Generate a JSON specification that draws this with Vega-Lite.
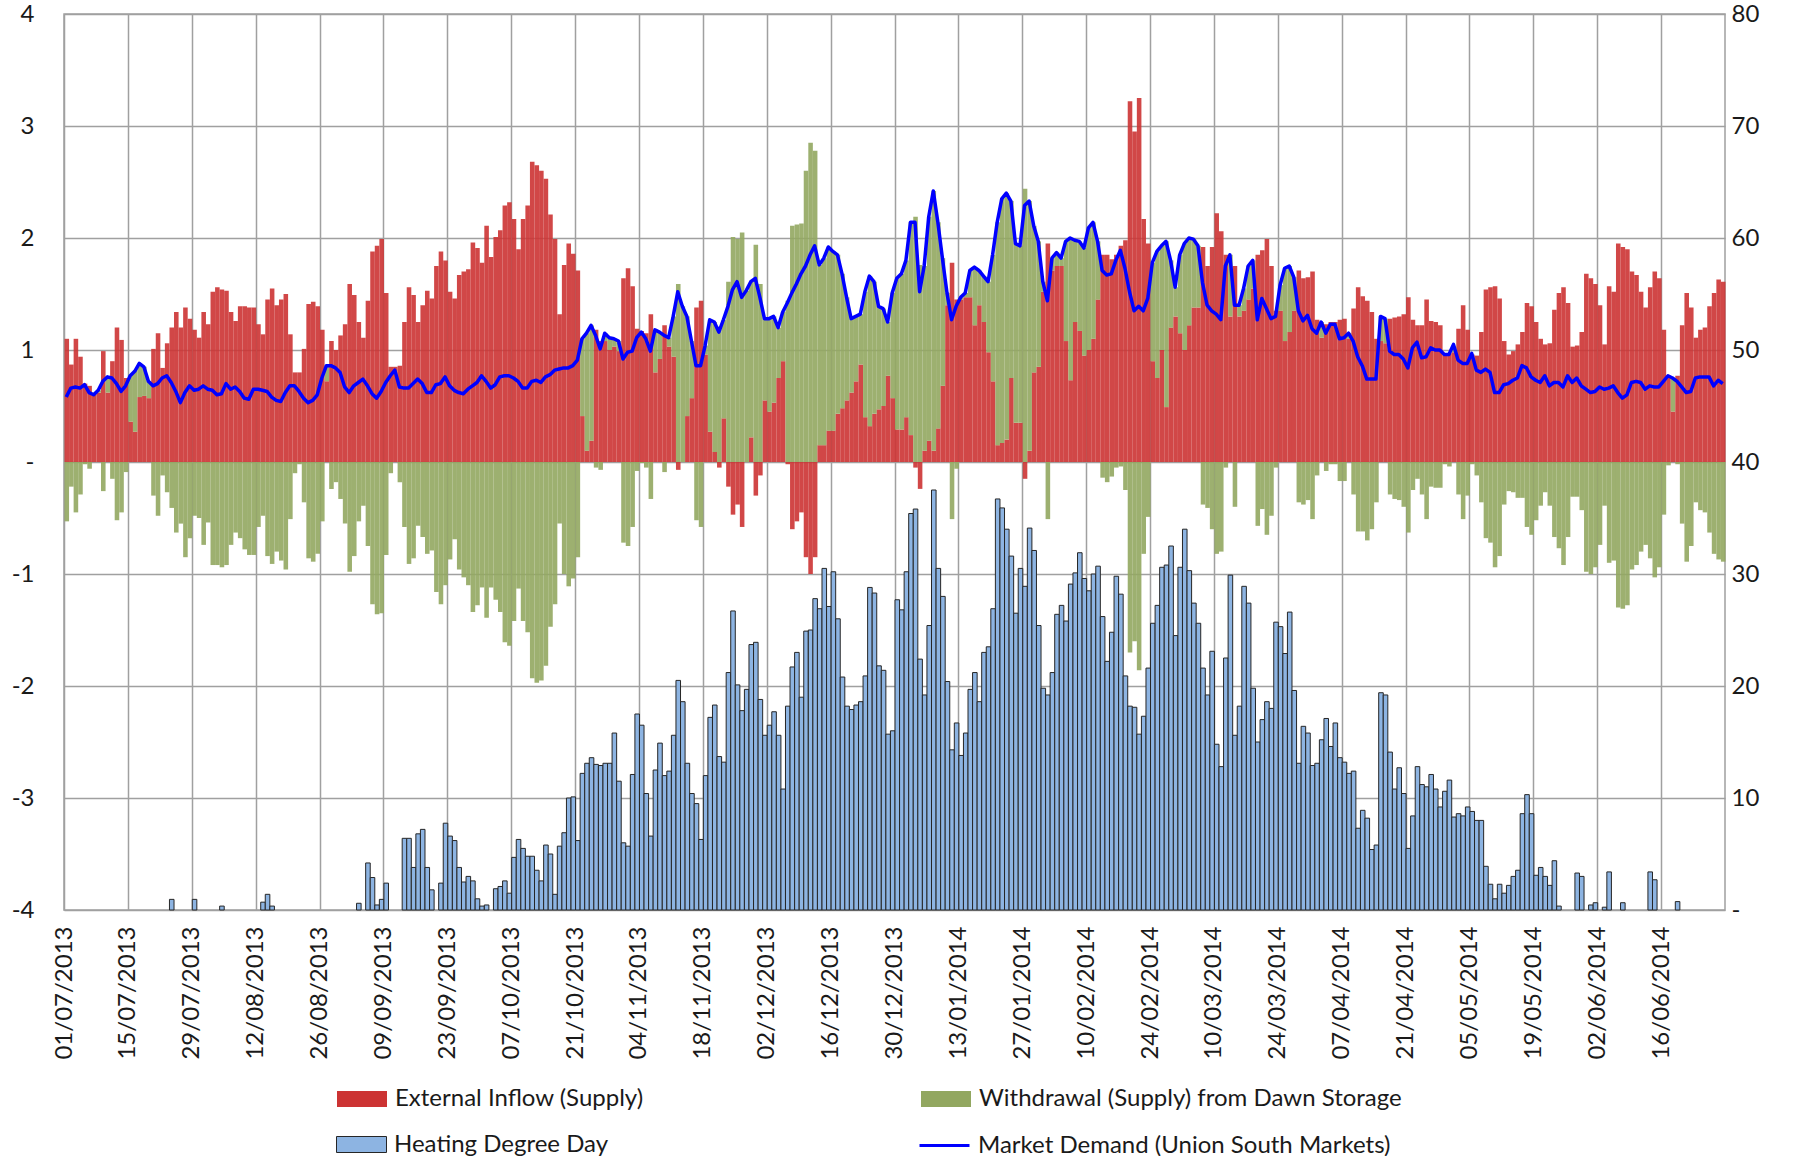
{
"$schema": "https://vega.github.io/schema/vega-lite/v6.json",
"width": 1661, "height": 896,
"autosize": {"type": "none"},
"padding": {"left": 64, "top": 14, "right": 72, "bottom": 246},
"background": "white",
"config": {
  "view": {"stroke": "#a0a0a0", "strokeWidth": 1.5},
  "font": "Lato",
  "axis": {"labelFont": "Lato", "labelFontSize": 24, "labelColor": "#1a1a1a", "ticks": false, "domain": false, "title": null},
  "legend": {"orient": "none", "padding": 0, "title": null, "labelFont": "Lato", "labelFontSize": 24, "labelColor": "#1a1a1a", "labelLimit": 700}
},
"data": {"values": [
{"d":"2013-07-01","e":1.10,"w":-0.53,"h":0,"m":0.58},
{"d":"2013-07-02","e":0.87,"w":-0.22,"h":0,"m":0.66},
{"d":"2013-07-03","e":1.10,"w":-0.45,"h":0,"m":0.67},
{"d":"2013-07-04","e":0.94,"w":-0.29,"h":0,"m":0.66},
{"d":"2013-07-05","e":0.70,"w":-0.02,"h":0,"m":0.69},
{"d":"2013-07-06","e":0.68,"w":-0.06,"h":0,"m":0.62},
{"d":"2013-07-07","e":0.60,"w":0.02,"h":0,"m":0.60},
{"d":"2013-07-08","e":0.62,"w":0.02,"h":0,"m":0.64},
{"d":"2013-07-09","e":0.99,"w":-0.26,"h":0,"m":0.72},
{"d":"2013-07-10","e":0.62,"w":0.14,"h":0,"m":0.76},
{"d":"2013-07-11","e":0.90,"w":-0.15,"h":0,"m":0.75},
{"d":"2013-07-12","e":1.20,"w":-0.52,"h":0,"m":0.70},
{"d":"2013-07-13","e":1.09,"w":-0.45,"h":0,"m":0.63},
{"d":"2013-07-14","e":0.75,"w":-0.09,"h":0,"m":0.68},
{"d":"2013-07-15","e":0.36,"w":0.42,"h":0,"m":0.77},
{"d":"2013-07-16","e":0.27,"w":0.55,"h":0,"m":0.81},
{"d":"2013-07-17","e":0.58,"w":0.30,"h":0,"m":0.88},
{"d":"2013-07-18","e":0.59,"w":0.26,"h":0,"m":0.85},
{"d":"2013-07-19","e":0.57,"w":0.15,"h":0,"m":0.72},
{"d":"2013-07-20","e":1.01,"w":-0.30,"h":0,"m":0.68},
{"d":"2013-07-21","e":1.15,"w":-0.48,"h":0,"m":0.70},
{"d":"2013-07-22","e":0.84,"w":-0.12,"h":0,"m":0.75},
{"d":"2013-07-23","e":1.06,"w":-0.27,"h":0,"m":0.77},
{"d":"2013-07-24","e":1.20,"w":-0.41,"h":0.95,"m":0.71},
{"d":"2013-07-25","e":1.34,"w":-0.63,"h":0,"m":0.63},
{"d":"2013-07-26","e":1.20,"w":-0.55,"h":0,"m":0.53},
{"d":"2013-07-27","e":1.38,"w":-0.85,"h":0,"m":0.62},
{"d":"2013-07-28","e":1.28,"w":-0.68,"h":0,"m":0.68},
{"d":"2013-07-29","e":1.18,"w":-0.48,"h":0.95,"m":0.64},
{"d":"2013-07-30","e":1.11,"w":-0.50,"h":0,"m":0.65},
{"d":"2013-07-31","e":1.34,"w":-0.74,"h":0,"m":0.68},
{"d":"2013-08-01","e":1.23,"w":-0.54,"h":0,"m":0.65},
{"d":"2013-08-02","e":1.52,"w":-0.92,"h":0,"m":0.64},
{"d":"2013-08-03","e":1.56,"w":-0.92,"h":0,"m":0.60},
{"d":"2013-08-04","e":1.54,"w":-0.94,"h":0.35,"m":0.61},
{"d":"2013-08-05","e":1.53,"w":-0.92,"h":0,"m":0.70},
{"d":"2013-08-06","e":1.34,"w":-0.74,"h":0,"m":0.65},
{"d":"2013-08-07","e":1.26,"w":-0.63,"h":0,"m":0.67},
{"d":"2013-08-08","e":1.39,"w":-0.68,"h":0,"m":0.63},
{"d":"2013-08-09","e":1.39,"w":-0.78,"h":0,"m":0.57},
{"d":"2013-08-10","e":1.38,"w":-0.83,"h":0,"m":0.56},
{"d":"2013-08-11","e":1.38,"w":-0.83,"h":0,"m":0.65},
{"d":"2013-08-12","e":1.23,"w":-0.58,"h":0,"m":0.65},
{"d":"2013-08-13","e":1.14,"w":-0.48,"h":0.7,"m":0.64},
{"d":"2013-08-14","e":1.45,"w":-0.84,"h":1.4,"m":0.63},
{"d":"2013-08-15","e":1.55,"w":-0.91,"h":0.35,"m":0.58},
{"d":"2013-08-16","e":1.40,"w":-0.80,"h":0,"m":0.55},
{"d":"2013-08-17","e":1.45,"w":-0.88,"h":0,"m":0.54},
{"d":"2013-08-18","e":1.50,"w":-0.96,"h":0,"m":0.62},
{"d":"2013-08-19","e":1.14,"w":-0.51,"h":0,"m":0.68},
{"d":"2013-08-20","e":0.80,"w":-0.10,"h":0,"m":0.68},
{"d":"2013-08-21","e":0.80,"w":-0.02,"h":0,"m":0.63},
{"d":"2013-08-22","e":1.01,"w":-0.36,"h":0,"m":0.57},
{"d":"2013-08-23","e":1.41,"w":-0.86,"h":0,"m":0.53},
{"d":"2013-08-24","e":1.43,"w":-0.89,"h":0,"m":0.55},
{"d":"2013-08-25","e":1.39,"w":-0.82,"h":0,"m":0.60},
{"d":"2013-08-26","e":1.18,"w":-0.53,"h":0,"m":0.75},
{"d":"2013-08-27","e":0.72,"w":0.14,"h":0,"m":0.86},
{"d":"2013-08-28","e":1.08,"w":-0.24,"h":0,"m":0.86},
{"d":"2013-08-29","e":1.00,"w":-0.18,"h":0,"m":0.84},
{"d":"2013-08-30","e":1.13,"w":-0.33,"h":0,"m":0.80},
{"d":"2013-08-31","e":1.23,"w":-0.55,"h":0,"m":0.67},
{"d":"2013-09-01","e":1.59,"w":-0.98,"h":0,"m":0.62},
{"d":"2013-09-02","e":1.49,"w":-0.84,"h":0,"m":0.68},
{"d":"2013-09-03","e":1.25,"w":-0.53,"h":0.6,"m":0.71},
{"d":"2013-09-04","e":1.11,"w":-0.39,"h":0,"m":0.74},
{"d":"2013-09-05","e":1.44,"w":-0.75,"h":4.2,"m":0.68},
{"d":"2013-09-06","e":1.88,"w":-1.27,"h":2.9,"m":0.61},
{"d":"2013-09-07","e":1.93,"w":-1.36,"h":0.45,"m":0.57},
{"d":"2013-09-08","e":1.99,"w":-1.35,"h":0.95,"m":0.63},
{"d":"2013-09-09","e":1.51,"w":-0.83,"h":2.4,"m":0.71},
{"d":"2013-09-10","e":0.85,"w":-0.10,"h":0,"m":0.77},
{"d":"2013-09-11","e":0.85,"w":0,"h":0,"m":0.82},
{"d":"2013-09-12","e":0.86,"w":-0.18,"h":0,"m":0.67},
{"d":"2013-09-13","e":1.25,"w":-0.58,"h":6.4,"m":0.66},
{"d":"2013-09-14","e":1.56,"w":-0.91,"h":6.4,"m":0.66},
{"d":"2013-09-15","e":1.49,"w":-0.86,"h":3.8,"m":0.70},
{"d":"2013-09-16","e":1.25,"w":-0.57,"h":6.8,"m":0.74},
{"d":"2013-09-17","e":1.40,"w":-0.67,"h":7.2,"m":0.70},
{"d":"2013-09-18","e":1.53,"w":-0.82,"h":3.8,"m":0.62},
{"d":"2013-09-19","e":1.46,"w":-0.79,"h":1.8,"m":0.62},
{"d":"2013-09-20","e":1.75,"w":-1.16,"h":0,"m":0.69},
{"d":"2013-09-21","e":1.88,"w":-1.27,"h":2.4,"m":0.70},
{"d":"2013-09-22","e":1.80,"w":-1.10,"h":7.75,"m":0.76},
{"d":"2013-09-23","e":1.52,"w":-0.87,"h":6.6,"m":0.68},
{"d":"2013-09-24","e":1.46,"w":-0.69,"h":6.2,"m":0.64},
{"d":"2013-09-25","e":1.67,"w":-0.96,"h":3.8,"m":0.62},
{"d":"2013-09-26","e":1.70,"w":-1.03,"h":2.5,"m":0.61},
{"d":"2013-09-27","e":1.72,"w":-1.10,"h":3.0,"m":0.65},
{"d":"2013-09-28","e":1.96,"w":-1.34,"h":2.6,"m":0.68},
{"d":"2013-09-29","e":1.91,"w":-1.28,"h":1.0,"m":0.71},
{"d":"2013-09-30","e":1.78,"w":-1.12,"h":0.35,"m":0.77},
{"d":"2013-10-01","e":2.11,"w":-1.39,"h":0.45,"m":0.72},
{"d":"2013-10-02","e":1.83,"w":-1.12,"h":0,"m":0.66},
{"d":"2013-10-03","e":2.01,"w":-1.23,"h":1.9,"m":0.69},
{"d":"2013-10-04","e":2.07,"w":-1.34,"h":2.1,"m":0.76},
{"d":"2013-10-05","e":2.29,"w":-1.61,"h":2.6,"m":0.77},
{"d":"2013-10-06","e":2.32,"w":-1.64,"h":1.5,"m":0.77},
{"d":"2013-10-07","e":2.17,"w":-1.42,"h":4.7,"m":0.75},
{"d":"2013-10-08","e":1.90,"w":-1.13,"h":6.3,"m":0.72},
{"d":"2013-10-09","e":2.17,"w":-1.42,"h":5.5,"m":0.66},
{"d":"2013-10-10","e":2.29,"w":-1.52,"h":4.8,"m":0.66},
{"d":"2013-10-11","e":2.68,"w":-1.93,"h":4.8,"m":0.72},
{"d":"2013-10-12","e":2.65,"w":-1.97,"h":3.55,"m":0.73},
{"d":"2013-10-13","e":2.60,"w":-1.95,"h":2.6,"m":0.71},
{"d":"2013-10-14","e":2.53,"w":-1.82,"h":5.8,"m":0.76},
{"d":"2013-10-15","e":2.21,"w":-1.47,"h":5.0,"m":0.78},
{"d":"2013-10-16","e":1.99,"w":-1.27,"h":1.4,"m":0.82},
{"d":"2013-10-17","e":1.32,"w":-0.55,"h":5.7,"m":0.83},
{"d":"2013-10-18","e":1.76,"w":-1.00,"h":6.9,"m":0.84},
{"d":"2013-10-19","e":1.95,"w":-1.11,"h":10.0,"m":0.84},
{"d":"2013-10-20","e":1.86,"w":-1.04,"h":10.1,"m":0.86},
{"d":"2013-10-21","e":1.71,"w":-0.85,"h":6.2,"m":0.91},
{"d":"2013-10-22","e":0.41,"w":0.69,"h":12.2,"m":1.10},
{"d":"2013-10-23","e":0.10,"w":1.05,"h":13.1,"m":1.15},
{"d":"2013-10-24","e":0.19,"w":1.03,"h":13.6,"m":1.22},
{"d":"2013-10-25","e":1.18,"w":-0.05,"h":13.0,"m":1.13},
{"d":"2013-10-26","e":1.08,"w":-0.07,"h":12.9,"m":1.01},
{"d":"2013-10-27","e":1.08,"w":0.07,"h":13.1,"m":1.15},
{"d":"2013-10-28","e":1.00,"w":0.11,"h":13.1,"m":1.11},
{"d":"2013-10-29","e":1.03,"w":0.07,"h":15.8,"m":1.10},
{"d":"2013-10-30","e":0.99,"w":0.09,"h":11.5,"m":1.08},
{"d":"2013-10-31","e":1.64,"w":-0.72,"h":6.0,"m":0.92},
{"d":"2013-11-01","e":1.73,"w":-0.75,"h":5.7,"m":0.98},
{"d":"2013-11-02","e":1.57,"w":-0.58,"h":12.1,"m":0.99},
{"d":"2013-11-03","e":1.19,"w":-0.08,"h":17.5,"m":1.11},
{"d":"2013-11-04","e":1.17,"w":-0.01,"h":16.5,"m":1.16},
{"d":"2013-11-05","e":1.15,"w":-0.05,"h":10.4,"m":1.10},
{"d":"2013-11-06","e":1.32,"w":-0.33,"h":6.6,"m":0.99},
{"d":"2013-11-07","e":0.80,"w":0.38,"h":12.5,"m":1.18},
{"d":"2013-11-08","e":0.92,"w":0.24,"h":14.9,"m":1.16},
{"d":"2013-11-09","e":1.22,"w":-0.09,"h":12.0,"m":1.13},
{"d":"2013-11-10","e":1.03,"w":0.08,"h":12.4,"m":1.11},
{"d":"2013-11-11","e":0.94,"w":0.36,"h":15.6,"m":1.30},
{"d":"2013-11-12","e":-0.07,"w":1.59,"h":20.5,"m":1.52},
{"d":"2013-11-13","e":0,"w":1.39,"h":18.6,"m":1.39},
{"d":"2013-11-14","e":0.41,"w":0.89,"h":13.1,"m":1.30},
{"d":"2013-11-15","e":0.57,"w":0.51,"h":10.4,"m":1.08},
{"d":"2013-11-16","e":1.38,"w":-0.52,"h":9.5,"m":0.86},
{"d":"2013-11-17","e":1.44,"w":-0.58,"h":6.3,"m":0.86},
{"d":"2013-11-18","e":0.96,"w":0.08,"h":12.0,"m":1.04},
{"d":"2013-11-19","e":0.27,"w":1.00,"h":17.2,"m":1.27},
{"d":"2013-11-20","e":0.09,"w":1.16,"h":18.3,"m":1.25},
{"d":"2013-11-21","e":-0.05,"w":1.21,"h":13.7,"m":1.16},
{"d":"2013-11-22","e":0.39,"w":0.88,"h":13.2,"m":1.27},
{"d":"2013-11-23","e":-0.22,"w":1.61,"h":21.2,"m":1.39},
{"d":"2013-11-24","e":-0.47,"w":2.01,"h":26.7,"m":1.54},
{"d":"2013-11-25","e":-0.38,"w":1.99,"h":20.1,"m":1.61},
{"d":"2013-11-26","e":-0.58,"w":2.05,"h":17.8,"m":1.47},
{"d":"2013-11-27","e":0,"w":1.53,"h":19.7,"m":1.53},
{"d":"2013-11-28","e":0.22,"w":1.39,"h":23.7,"m":1.61},
{"d":"2013-11-29","e":-0.30,"w":1.94,"h":23.9,"m":1.64},
{"d":"2013-11-30","e":-0.12,"w":1.59,"h":18.8,"m":1.47},
{"d":"2013-12-01","e":0.55,"w":0.73,"h":15.6,"m":1.28},
{"d":"2013-12-02","e":0.45,"w":0.83,"h":16.5,"m":1.28},
{"d":"2013-12-03","e":0.53,"w":0.77,"h":17.7,"m":1.30},
{"d":"2013-12-04","e":0.75,"w":0.45,"h":15.6,"m":1.20},
{"d":"2013-12-05","e":0.90,"w":0.44,"h":10.8,"m":1.34},
{"d":"2013-12-06","e":-0.02,"w":1.44,"h":18.2,"m":1.42},
{"d":"2013-12-07","e":-0.60,"w":2.11,"h":21.7,"m":1.51},
{"d":"2013-12-08","e":-0.53,"w":2.12,"h":23.0,"m":1.59},
{"d":"2013-12-09","e":-0.45,"w":2.13,"h":19.0,"m":1.68},
{"d":"2013-12-10","e":-0.85,"w":2.60,"h":24.9,"m":1.75},
{"d":"2013-12-11","e":-1.00,"w":2.85,"h":25.0,"m":1.85},
{"d":"2013-12-12","e":-0.85,"w":2.78,"h":27.8,"m":1.93},
{"d":"2013-12-13","e":0.15,"w":1.61,"h":26.9,"m":1.76},
{"d":"2013-12-14","e":0.15,"w":1.67,"h":30.5,"m":1.82},
{"d":"2013-12-15","e":0.28,"w":1.64,"h":27.1,"m":1.92},
{"d":"2013-12-16","e":0.28,"w":1.60,"h":30.2,"m":1.88},
{"d":"2013-12-17","e":0.43,"w":1.42,"h":26.0,"m":1.85},
{"d":"2013-12-18","e":0.48,"w":1.20,"h":20.8,"m":1.68},
{"d":"2013-12-19","e":0.55,"w":0.92,"h":18.2,"m":1.47},
{"d":"2013-12-20","e":0.62,"w":0.66,"h":17.9,"m":1.28},
{"d":"2013-12-21","e":0.72,"w":0.58,"h":18.3,"m":1.30},
{"d":"2013-12-22","e":0.87,"w":0.45,"h":18.6,"m":1.32},
{"d":"2013-12-23","e":0.40,"w":1.12,"h":20.9,"m":1.52},
{"d":"2013-12-24","e":0.32,"w":1.34,"h":28.8,"m":1.66},
{"d":"2013-12-25","e":0.43,"w":1.18,"h":28.3,"m":1.61},
{"d":"2013-12-26","e":0.47,"w":0.92,"h":21.8,"m":1.39},
{"d":"2013-12-27","e":0.50,"w":0.87,"h":21.4,"m":1.37},
{"d":"2013-12-28","e":0.77,"w":0.48,"h":15.7,"m":1.25},
{"d":"2013-12-29","e":0.57,"w":0.94,"h":16.0,"m":1.51},
{"d":"2013-12-30","e":0.29,"w":1.35,"h":27.7,"m":1.64},
{"d":"2013-12-31","e":0.29,"w":1.39,"h":26.8,"m":1.68},
{"d":"2014-01-01","e":0.40,"w":1.40,"h":30.2,"m":1.80},
{"d":"2014-01-02","e":0.24,"w":1.90,"h":35.4,"m":2.14},
{"d":"2014-01-03","e":-0.05,"w":2.19,"h":35.8,"m":2.14},
{"d":"2014-01-04","e":-0.24,"w":1.76,"h":22.4,"m":1.52},
{"d":"2014-01-05","e":0.10,"w":1.65,"h":19.2,"m":1.75},
{"d":"2014-01-06","e":0.19,"w":2.00,"h":25.4,"m":2.19},
{"d":"2014-01-07","e":0.10,"w":2.32,"h":37.5,"m":2.42},
{"d":"2014-01-08","e":0.30,"w":1.84,"h":30.5,"m":2.14},
{"d":"2014-01-09","e":0.68,"w":1.14,"h":28.0,"m":1.82},
{"d":"2014-01-10","e":1.40,"w":0.11,"h":20.4,"m":1.51},
{"d":"2014-01-11","e":1.78,"w":-0.51,"h":14.3,"m":1.27},
{"d":"2014-01-12","e":1.45,"w":-0.06,"h":16.7,"m":1.39},
{"d":"2014-01-13","e":1.45,"w":0.02,"h":13.8,"m":1.47},
{"d":"2014-01-14","e":1.47,"w":0.04,"h":15.8,"m":1.51},
{"d":"2014-01-15","e":1.47,"w":0.24,"h":19.7,"m":1.71},
{"d":"2014-01-16","e":1.22,"w":0.52,"h":21.2,"m":1.74},
{"d":"2014-01-17","e":1.40,"w":0.31,"h":18.6,"m":1.71},
{"d":"2014-01-18","e":1.25,"w":0.41,"h":23.0,"m":1.66},
{"d":"2014-01-19","e":0.98,"w":0.63,"h":23.5,"m":1.61},
{"d":"2014-01-20","e":0.72,"w":1.13,"h":26.9,"m":1.85},
{"d":"2014-01-21","e":0.15,"w":1.99,"h":36.7,"m":2.14},
{"d":"2014-01-22","e":0.17,"w":2.18,"h":35.9,"m":2.35},
{"d":"2014-01-23","e":0.20,"w":2.20,"h":34.0,"m":2.40},
{"d":"2014-01-24","e":0.75,"w":1.58,"h":31.6,"m":2.33},
{"d":"2014-01-25","e":0.35,"w":1.60,"h":26.5,"m":1.95},
{"d":"2014-01-26","e":0.35,"w":1.58,"h":30.5,"m":1.93},
{"d":"2014-01-27","e":-0.15,"w":2.44,"h":28.9,"m":2.29},
{"d":"2014-01-28","e":0.10,"w":2.23,"h":34.1,"m":2.33},
{"d":"2014-01-29","e":0.80,"w":1.31,"h":32.1,"m":2.11},
{"d":"2014-01-30","e":0.85,"w":1.12,"h":25.4,"m":1.97},
{"d":"2014-01-31","e":1.52,"w":0.09,"h":19.8,"m":1.61},
{"d":"2014-02-01","e":1.95,"w":-0.51,"h":19.2,"m":1.44},
{"d":"2014-02-02","e":1.71,"w":0.11,"h":21.2,"m":1.82},
{"d":"2014-02-03","e":1.75,"w":0.12,"h":26.4,"m":1.87},
{"d":"2014-02-04","e":1.75,"w":0.07,"h":27.2,"m":1.82},
{"d":"2014-02-05","e":1.08,"w":0.89,"h":25.8,"m":1.97},
{"d":"2014-02-06","e":0.73,"w":1.27,"h":29.1,"m":2.00},
{"d":"2014-02-07","e":1.25,"w":0.73,"h":30.1,"m":1.98},
{"d":"2014-02-08","e":1.17,"w":0.80,"h":31.9,"m":1.97},
{"d":"2014-02-09","e":0.95,"w":0.96,"h":29.6,"m":1.91},
{"d":"2014-02-10","e":1.00,"w":1.09,"h":28.5,"m":2.09},
{"d":"2014-02-11","e":1.10,"w":1.04,"h":30.0,"m":2.14},
{"d":"2014-02-12","e":1.45,"w":0.52,"h":30.7,"m":1.97},
{"d":"2014-02-13","e":1.85,"w":-0.14,"h":26.2,"m":1.71},
{"d":"2014-02-14","e":1.85,"w":-0.18,"h":22.2,"m":1.67},
{"d":"2014-02-15","e":1.81,"w":-0.13,"h":24.8,"m":1.68},
{"d":"2014-02-16","e":1.85,"w":-0.05,"h":29.8,"m":1.80},
{"d":"2014-02-17","e":1.93,"w":-0.04,"h":28.2,"m":1.89},
{"d":"2014-02-18","e":1.98,"w":-0.25,"h":20.9,"m":1.73},
{"d":"2014-02-19","e":3.22,"w":-1.70,"h":18.2,"m":1.52},
{"d":"2014-02-20","e":2.95,"w":-1.60,"h":18.1,"m":1.35},
{"d":"2014-02-21","e":3.25,"w":-1.86,"h":15.7,"m":1.39},
{"d":"2014-02-22","e":2.17,"w":-0.82,"h":17.3,"m":1.35},
{"d":"2014-02-23","e":1.95,"w":-0.49,"h":21.6,"m":1.46},
{"d":"2014-02-24","e":0.90,"w":0.88,"h":25.6,"m":1.78},
{"d":"2014-02-25","e":0.75,"w":1.13,"h":27.2,"m":1.88},
{"d":"2014-02-26","e":1.00,"w":0.93,"h":30.6,"m":1.93},
{"d":"2014-02-27","e":0.49,"w":1.48,"h":30.8,"m":1.97},
{"d":"2014-02-28","e":1.20,"w":0.60,"h":32.5,"m":1.80},
{"d":"2014-03-01","e":1.30,"w":0.26,"h":24.5,"m":1.56},
{"d":"2014-03-02","e":1.15,"w":0.70,"h":30.6,"m":1.85},
{"d":"2014-03-03","e":1.00,"w":0.95,"h":34.0,"m":1.95},
{"d":"2014-03-04","e":1.22,"w":0.78,"h":30.3,"m":2.00},
{"d":"2014-03-05","e":1.38,"w":0.61,"h":27.4,"m":1.99},
{"d":"2014-03-06","e":1.38,"w":0.55,"h":25.6,"m":1.93},
{"d":"2014-03-07","e":1.92,"w":-0.38,"h":21.6,"m":1.60},
{"d":"2014-03-08","e":1.75,"w":-0.41,"h":19.2,"m":1.40},
{"d":"2014-03-09","e":1.92,"w":-0.60,"h":23.1,"m":1.35},
{"d":"2014-03-10","e":2.22,"w":-0.82,"h":14.8,"m":1.32},
{"d":"2014-03-11","e":2.06,"w":-0.80,"h":12.8,"m":1.27},
{"d":"2014-03-12","e":1.85,"w":-0.05,"h":22.5,"m":1.75},
{"d":"2014-03-13","e":1.30,"w":0.55,"h":29.9,"m":1.85},
{"d":"2014-03-14","e":1.75,"w":-0.40,"h":15.6,"m":1.40},
{"d":"2014-03-15","e":1.30,"w":0.10,"h":18.2,"m":1.40},
{"d":"2014-03-16","e":1.35,"w":0.20,"h":28.9,"m":1.55},
{"d":"2014-03-17","e":1.45,"w":0.30,"h":27.4,"m":1.75},
{"d":"2014-03-18","e":1.55,"w":0.25,"h":19.8,"m":1.80},
{"d":"2014-03-19","e":1.85,"w":-0.57,"h":15.0,"m":1.27},
{"d":"2014-03-20","e":1.89,"w":-0.42,"h":17.0,"m":1.46},
{"d":"2014-03-21","e":1.99,"w":-0.65,"h":18.6,"m":1.37},
{"d":"2014-03-22","e":1.75,"w":-0.48,"h":18.0,"m":1.28},
{"d":"2014-03-23","e":1.35,"w":-0.05,"h":25.7,"m":1.30},
{"d":"2014-03-24","e":1.35,"w":0.23,"h":25.3,"m":1.58},
{"d":"2014-03-25","e":1.08,"w":0.65,"h":22.9,"m":1.73},
{"d":"2014-03-26","e":1.16,"w":0.59,"h":26.6,"m":1.75},
{"d":"2014-03-27","e":1.35,"w":0.30,"h":19.6,"m":1.65},
{"d":"2014-03-28","e":1.71,"w":-0.36,"h":13.1,"m":1.35},
{"d":"2014-03-29","e":1.64,"w":-0.38,"h":16.4,"m":1.26},
{"d":"2014-03-30","e":1.65,"w":-0.34,"h":15.8,"m":1.31},
{"d":"2014-03-31","e":1.70,"w":-0.51,"h":12.9,"m":1.19},
{"d":"2014-04-01","e":1.27,"w":-0.12,"h":13.1,"m":1.15},
{"d":"2014-04-02","e":1.11,"w":0.14,"h":15.2,"m":1.25},
{"d":"2014-04-03","e":1.23,"w":-0.08,"h":17.1,"m":1.15},
{"d":"2014-04-04","e":1.25,"w":-0.02,"h":14.6,"m":1.23},
{"d":"2014-04-05","e":1.25,"w":-0.02,"h":16.7,"m":1.23},
{"d":"2014-04-06","e":1.27,"w":-0.17,"h":13.6,"m":1.10},
{"d":"2014-04-07","e":1.28,"w":-0.17,"h":13.2,"m":1.11},
{"d":"2014-04-08","e":1.10,"w":0.05,"h":12.2,"m":1.15},
{"d":"2014-04-09","e":1.37,"w":-0.29,"h":12.4,"m":1.08},
{"d":"2014-04-10","e":1.56,"w":-0.62,"h":7.3,"m":0.94},
{"d":"2014-04-11","e":1.48,"w":-0.62,"h":8.9,"m":0.86},
{"d":"2014-04-12","e":1.44,"w":-0.70,"h":8.2,"m":0.74},
{"d":"2014-04-13","e":1.34,"w":-0.60,"h":5.4,"m":0.74},
{"d":"2014-04-14","e":1.10,"w":-0.36,"h":5.8,"m":0.74},
{"d":"2014-04-15","e":1.08,"w":0.22,"h":19.4,"m":1.30},
{"d":"2014-04-16","e":1.06,"w":0.22,"h":19.2,"m":1.28},
{"d":"2014-04-17","e":1.28,"w":-0.29,"h":14.1,"m":0.99},
{"d":"2014-04-18","e":1.29,"w":-0.33,"h":10.8,"m":0.96},
{"d":"2014-04-19","e":1.30,"w":-0.34,"h":12.7,"m":0.96},
{"d":"2014-04-20","e":1.32,"w":-0.40,"h":10.4,"m":0.92},
{"d":"2014-04-21","e":1.47,"w":-0.63,"h":5.5,"m":0.84},
{"d":"2014-04-22","e":1.27,"w":-0.25,"h":8.4,"m":1.02},
{"d":"2014-04-23","e":1.22,"w":-0.15,"h":12.8,"m":1.07},
{"d":"2014-04-24","e":1.22,"w":-0.29,"h":11.2,"m":0.93},
{"d":"2014-04-25","e":1.45,"w":-0.51,"h":11.0,"m":0.94},
{"d":"2014-04-26","e":1.26,"w":-0.22,"h":12.1,"m":1.02},
{"d":"2014-04-27","e":1.25,"w":-0.23,"h":10.8,"m":1.00},
{"d":"2014-04-28","e":1.22,"w":-0.23,"h":9.2,"m":1.00},
{"d":"2014-04-29","e":0.96,"w":-0.02,"h":10.6,"m":0.96},
{"d":"2014-04-30","e":0.97,"w":-0.04,"h":11.6,"m":0.96},
{"d":"2014-05-01","e":0.98,"w":0.05,"h":8.3,"m":1.05},
{"d":"2014-05-02","e":1.19,"w":-0.29,"h":8.6,"m":0.91},
{"d":"2014-05-03","e":1.40,"w":-0.51,"h":8.4,"m":0.88},
{"d":"2014-05-04","e":1.18,"w":-0.30,"h":9.2,"m":0.88},
{"d":"2014-05-05","e":0.96,"w":-0.02,"h":8.8,"m":0.97},
{"d":"2014-05-06","e":0.95,"w":-0.12,"h":8.0,"m":0.82},
{"d":"2014-05-07","e":1.16,"w":-0.36,"h":8.0,"m":0.80},
{"d":"2014-05-08","e":1.54,"w":-0.68,"h":3.9,"m":0.83},
{"d":"2014-05-09","e":1.56,"w":-0.72,"h":2.3,"m":0.80},
{"d":"2014-05-10","e":1.57,"w":-0.94,"h":1.0,"m":0.62},
{"d":"2014-05-11","e":1.46,"w":-0.84,"h":2.3,"m":0.62},
{"d":"2014-05-12","e":1.08,"w":-0.38,"h":1.5,"m":0.69},
{"d":"2014-05-13","e":0.96,"w":-0.26,"h":2.2,"m":0.70},
{"d":"2014-05-14","e":0.99,"w":-0.27,"h":3.0,"m":0.73},
{"d":"2014-05-15","e":1.05,"w":-0.32,"h":3.55,"m":0.75},
{"d":"2014-05-16","e":1.16,"w":-0.32,"h":8.6,"m":0.86},
{"d":"2014-05-17","e":1.42,"w":-0.58,"h":10.3,"m":0.84},
{"d":"2014-05-18","e":1.39,"w":-0.65,"h":8.6,"m":0.76},
{"d":"2014-05-19","e":1.25,"w":-0.52,"h":3.1,"m":0.73},
{"d":"2014-05-20","e":1.10,"w":-0.39,"h":3.8,"m":0.71},
{"d":"2014-05-21","e":1.05,"w":-0.27,"h":3.0,"m":0.77},
{"d":"2014-05-22","e":1.06,"w":-0.39,"h":2.2,"m":0.68},
{"d":"2014-05-23","e":1.36,"w":-0.67,"h":4.4,"m":0.71},
{"d":"2014-05-24","e":1.51,"w":-0.77,"h":0.35,"m":0.71},
{"d":"2014-05-25","e":1.56,"w":-0.92,"h":0,"m":0.67},
{"d":"2014-05-26","e":1.42,"w":-0.67,"h":0,"m":0.77},
{"d":"2014-05-27","e":1.03,"w":-0.31,"h":0,"m":0.71},
{"d":"2014-05-28","e":1.04,"w":-0.31,"h":3.3,"m":0.75},
{"d":"2014-05-29","e":1.16,"w":-0.43,"h":3.0,"m":0.68},
{"d":"2014-05-30","e":1.68,"w":-0.98,"h":0,"m":0.65},
{"d":"2014-05-31","e":1.64,"w":-1.00,"h":0.45,"m":0.62},
{"d":"2014-06-01","e":1.59,"w":-0.94,"h":0.65,"m":0.63},
{"d":"2014-06-02","e":1.40,"w":-0.74,"h":0,"m":0.67},
{"d":"2014-06-03","e":1.05,"w":-0.39,"h":0.25,"m":0.65},
{"d":"2014-06-04","e":1.57,"w":-0.90,"h":3.4,"m":0.66},
{"d":"2014-06-05","e":1.52,"w":-0.88,"h":0,"m":0.68},
{"d":"2014-06-06","e":1.95,"w":-1.30,"h":0,"m":0.62},
{"d":"2014-06-07","e":1.92,"w":-1.31,"h":0.65,"m":0.57},
{"d":"2014-06-08","e":1.90,"w":-1.28,"h":0,"m":0.60},
{"d":"2014-06-09","e":1.70,"w":-0.96,"h":0,"m":0.71},
{"d":"2014-06-10","e":1.67,"w":-0.92,"h":0,"m":0.72},
{"d":"2014-06-11","e":1.52,"w":-0.80,"h":0,"m":0.71},
{"d":"2014-06-12","e":1.38,"w":-0.74,"h":0,"m":0.65},
{"d":"2014-06-13","e":1.56,"w":-0.86,"h":3.4,"m":0.68},
{"d":"2014-06-14","e":1.70,"w":-1.03,"h":2.7,"m":0.67},
{"d":"2014-06-15","e":1.64,"w":-0.94,"h":0,"m":0.67},
{"d":"2014-06-16","e":1.18,"w":-0.47,"h":0,"m":0.72},
{"d":"2014-06-17","e":0.77,"w":-0.03,"h":0,"m":0.77},
{"d":"2014-06-18","e":0.45,"w":0.30,"h":0,"m":0.75},
{"d":"2014-06-19","e":0.77,"w":-0.02,"h":0.75,"m":0.72},
{"d":"2014-06-20","e":1.22,"w":-0.55,"h":0,"m":0.67},
{"d":"2014-06-21","e":1.51,"w":-0.89,"h":0,"m":0.62},
{"d":"2014-06-22","e":1.38,"w":-0.75,"h":0,"m":0.63},
{"d":"2014-06-23","e":1.11,"w":-0.36,"h":0,"m":0.75},
{"d":"2014-06-24","e":1.18,"w":-0.43,"h":0,"m":0.76},
{"d":"2014-06-25","e":1.20,"w":-0.45,"h":0,"m":0.76},
{"d":"2014-06-26","e":1.39,"w":-0.63,"h":0,"m":0.76},
{"d":"2014-06-27","e":1.51,"w":-0.82,"h":0,"m":0.68},
{"d":"2014-06-28","e":1.63,"w":-0.87,"h":0,"m":0.73},
{"d":"2014-06-29","e":1.61,"w":-0.89,"h":0,"m":0.70}
]},
"layer": [
{
  "transform": [{"filter": "datum.h > 0"}],
  "mark": {"type": "bar", "stroke": "#262626", "strokeWidth": 1, "binSpacing": 0},
  "encoding": {
    "x": {"field": "d", "timeUnit": "utcyearmonthdate", "type": "temporal",
      "scale": {"type": "utc", "domain": [{"year": 2013, "month": 7, "date": 1, "utc": true}, {"year": 2014, "month": 6, "date": 30, "utc": true}]},
      "axis": {"values": [
        {"year":2013,"month":7,"date":1,"utc":true},{"year":2013,"month":7,"date":15,"utc":true},{"year":2013,"month":7,"date":29,"utc":true},
        {"year":2013,"month":8,"date":12,"utc":true},{"year":2013,"month":8,"date":26,"utc":true},{"year":2013,"month":9,"date":9,"utc":true},
        {"year":2013,"month":9,"date":23,"utc":true},{"year":2013,"month":10,"date":7,"utc":true},{"year":2013,"month":10,"date":21,"utc":true},
        {"year":2013,"month":11,"date":4,"utc":true},{"year":2013,"month":11,"date":18,"utc":true},{"year":2013,"month":12,"date":2,"utc":true},
        {"year":2013,"month":12,"date":16,"utc":true},{"year":2013,"month":12,"date":30,"utc":true},{"year":2014,"month":1,"date":13,"utc":true},
        {"year":2014,"month":1,"date":27,"utc":true},{"year":2014,"month":2,"date":10,"utc":true},{"year":2014,"month":2,"date":24,"utc":true},
        {"year":2014,"month":3,"date":10,"utc":true},{"year":2014,"month":3,"date":24,"utc":true},{"year":2014,"month":4,"date":7,"utc":true},
        {"year":2014,"month":4,"date":21,"utc":true},{"year":2014,"month":5,"date":5,"utc":true},{"year":2014,"month":5,"date":19,"utc":true},
        {"year":2014,"month":6,"date":2,"utc":true},{"year":2014,"month":6,"date":16,"utc":true}],
        "format": "%d/%m/%Y", "labelAngle": 270, "labelPadding": 16, "grid": true, "gridColor": "#a0a0a0", "gridWidth": 1.5,
        "labelOverlap": false, "labelFlush": false, "labelBound": false, "title": null}},
    "y": {"field": "h", "type": "quantitative", "scale": {"domain": [0, 80], "nice": false},
      "axis": {"orient": "right", "values": [0,10,20,30,40,50,60,70,80], "labelExpr": "datum.value == 0 ? '-' : toString(datum.value)", "grid": false, "labelPadding": 6, "title": null}},
    "fill": {"datum": "h", "type": "nominal", "scale": {"domain": ["h"], "range": ["#8db4e2"]},
      "legend": {"legendX": 277, "legendY": 1110, "symbolType": "M-1.25,-0.4H1.25V0.4H-1.25Z", "symbolSize": 1600, "labelOffset": 12,
        "symbolStrokeColor": "#262626", "symbolStrokeWidth": 1, "symbolOpacity": 1,
        "labelExpr": "'Heating Degree Day'"}}
  }
},
{
  "transform": [{"fold": ["e", "w"], "as": ["s", "v"]}],
  "mark": {"type": "bar", "opacity": 0.9, "binSpacing": 0},
  "encoding": {
    "x": {"field": "d", "timeUnit": "utcyearmonthdate", "type": "temporal"},
    "y": {"field": "v", "type": "quantitative", "stack": "zero", "scale": {"domain": [-4, 4], "nice": false, "zero": false},
      "axis": {"orient": "left", "values": [-4,-3,-2,-1,0,1,2,3,4], "labelExpr": "datum.value == 0 ? '-' : toString(datum.value)", "grid": true, "gridColor": "#a0a0a0", "gridWidth": 1.5, "labelPadding": 30, "title": null}},
    "color": {"field": "s", "type": "nominal",
      "scale": {"domain": ["e", "w"], "range": ["#cc3333", "#92a760"]},
      "legend": {"legendX": 277, "legendY": 1064, "columns": 2, "columnPadding": 277, "symbolType": "M-1.25,-0.4H1.25V0.4H-1.25Z", "symbolSize": 1600,
        "labelOffset": 12, "symbolOpacity": 1,
        "labelExpr": "datum.value === 'e' ? 'External Inflow (Supply)' : 'Withdrawal (Supply) from Dawn Storage'"}},
    "order": {"field": "s", "sort": "ascending"}
  }
},
{
  "mark": {"type": "line", "strokeWidth": 3.5, "strokeJoin": "round"},
  "encoding": {
    "x": {"field": "d", "timeUnit": "utcyearmonthdate", "type": "temporal", "bandPosition": 0.5},
    "y": {"field": "m", "type": "quantitative", "scale": {"domain": [-4, 4], "nice": false, "zero": false}, "axis": null},
    "stroke": {"datum": "m", "type": "nominal", "scale": {"domain": ["m"], "range": ["#0000ff"]},
      "legend": {"legendX": 854, "legendY": 1105, "symbolType": "stroke", "symbolSize": 2500, "symbolStrokeWidth": 3, "labelOffset": 7,
        "labelExpr": "'Market Demand (Union South Markets)'"}}
  }
}
],
"resolve": {"scale": {"y": "independent"}}
}
